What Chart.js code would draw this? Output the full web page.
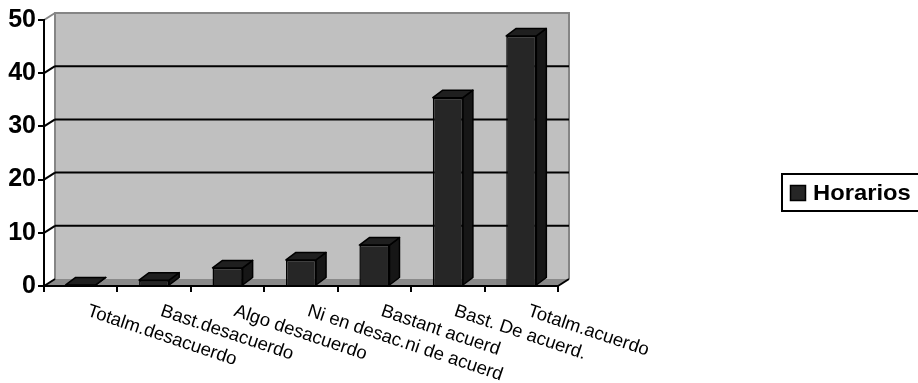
<!DOCTYPE html>
<html>
<head>
<meta charset="utf-8">
<script src="https://cdn.jsdelivr.net/npm/chart.js@4/dist/chart.umd.min.js"></script>
<style>
  html, body { margin: 0; padding: 0; background: #ffffff; }
  canvas { display: block; }
</style>
</head>
<body>
<canvas id="chart" width="918" height="383"></canvas>
<script>
// Survey answers about "Horarios" (percentage of responses)
const categories = [
  'Totalm.desacuerdo',
  'Bast.desacuerdo',
  'Algo desacuerdo',
  'Ni en desac.ni de acuerd',
  'Bastant acuerd',
  'Bast. De acuerd.',
  'Totalm.acuerdo'
];
const horarios = [0.2, 1.1, 3.4, 4.9, 7.7, 35.4, 47.0];
const yTicks = [0, 10, 20, 30, 40, 50];
const seriesName = 'Horarios';

// depth of the pseudo-3D wall and of the columns
const WALL = { dx: 11, dy: 7 };
const BAR = { dx: 10, dy: 7.5 };
const FONT = 'Liberation Sans, Arial, Helvetica, sans-serif';

const wallPlugin = {
  id: 'wall3d',
  beforeDraw(chart) {
    const { ctx, chartArea: a, scales: { y } } = chart;
    const L = a.left, R = a.right, B = a.bottom, T = a.top;
    ctx.save();
    // floor
    ctx.fillStyle = '#8a8a8a';
    ctx.beginPath();
    ctx.moveTo(L, B); ctx.lineTo(R, B);
    ctx.lineTo(R + WALL.dx, B - WALL.dy); ctx.lineTo(L + WALL.dx, B - WALL.dy);
    ctx.closePath(); ctx.fill();
    // back wall
    ctx.fillStyle = '#c0c0c0';
    ctx.fillRect(L + WALL.dx, T - WALL.dy, R - L, B - T);
    ctx.strokeStyle = '#858585';
    ctx.lineWidth = 2;
    ctx.beginPath();
    ctx.moveTo(L + WALL.dx, B - WALL.dy);
    ctx.lineTo(L + WALL.dx, T - WALL.dy);
    ctx.lineTo(R + WALL.dx, T - WALL.dy);
    ctx.lineTo(R + WALL.dx, B - WALL.dy);
    ctx.stroke();
    // gridlines on the wall and the depth strokes from the value axis
    yTicks.forEach(v => {
      const py = y.getPixelForValue(v);
      const top = v === yTicks[yTicks.length - 1];
      if (v !== 0 && !top) {
        ctx.strokeStyle = '#000';
        ctx.lineWidth = 2;
        ctx.beginPath();
        ctx.moveTo(L + WALL.dx, py - WALL.dy);
        ctx.lineTo(R + WALL.dx, py - WALL.dy);
        ctx.stroke();
      }
      ctx.strokeStyle = top ? '#858585' : '#000';
      ctx.lineWidth = 2;
      ctx.beginPath();
      ctx.moveTo(L, py);
      ctx.lineTo(L + WALL.dx, py - WALL.dy);
      ctx.stroke();
    });
    // depth stroke at the end of the category axis
    ctx.strokeStyle = '#000';
    ctx.beginPath();
    ctx.moveTo(R, B);
    ctx.lineTo(R + WALL.dx, B - WALL.dy);
    ctx.stroke();
    ctx.restore();
  },
  afterDatasetsDraw(chart) {
    const { ctx } = chart;
    const meta = chart.getDatasetMeta(0);
    ctx.save();
    ctx.lineWidth = 1.5;
    ctx.strokeStyle = '#000';
    ctx.lineJoin = 'round';
    meta.data.forEach(bar => {
      const p = bar.getProps(['x', 'y', 'base', 'width'], true);
      const l = p.x - p.width / 2, r = p.x + p.width / 2;
      // side face
      ctx.fillStyle = '#161616';
      ctx.beginPath();
      ctx.moveTo(r, p.base); ctx.lineTo(r, p.y);
      ctx.lineTo(r + BAR.dx, p.y - BAR.dy); ctx.lineTo(r + BAR.dx, p.base - BAR.dy);
      ctx.closePath(); ctx.fill(); ctx.stroke();
      // top face
      ctx.fillStyle = '#1f1f1f';
      ctx.beginPath();
      ctx.moveTo(l, p.y); ctx.lineTo(r, p.y);
      ctx.lineTo(r + BAR.dx, p.y - BAR.dy); ctx.lineTo(l + BAR.dx, p.y - BAR.dy);
      ctx.closePath(); ctx.fill(); ctx.stroke();
    });
    ctx.restore();
  },
  afterDraw(chart) {
    const { ctx, scales: { x } } = chart;
    ctx.save();
    // slanted category labels
    ctx.fillStyle = '#000';
    ctx.font = '18.5px ' + FONT;
    ctx.textAlign = 'left';
    ctx.textBaseline = 'top';
    categories.forEach((label, i) => {
      const px = x.getPixelForValue(i);
      ctx.save();
      ctx.translate(px + 10, 302);
      ctx.rotate(18.5 * Math.PI / 180);
      ctx.fillText(label, 0, 0);
      ctx.restore();
    });
    // legend
    ctx.lineWidth = 2;
    ctx.strokeStyle = '#000';
    ctx.fillStyle = '#fff';
    ctx.fillRect(782, 174, 150, 37);
    ctx.strokeRect(782, 174, 150, 37);
    ctx.fillStyle = '#262626';
    ctx.lineWidth = 1.5;
    ctx.fillRect(790.5, 185.5, 15, 15);
    ctx.strokeRect(790.5, 185.5, 15, 15);
    ctx.fillStyle = '#000';
    ctx.font = 'bold 22px ' + FONT;
    ctx.textBaseline = 'middle';
    ctx.save();
    ctx.translate(813, 193.5);
    ctx.scale(1.08, 1);
    ctx.fillText(chart.data.datasets[0].label, 0, 0);
    ctx.restore();
    ctx.restore();
  }
};

new Chart(document.getElementById('chart'), {
  type: 'bar',
  data: {
    labels: categories,
    datasets: [{
      label: seriesName,
      data: horarios,
      backgroundColor: '#262626',
      borderColor: '#000',
      borderWidth: 1.5,
      barPercentage: 0.41,
      categoryPercentage: 1
    }]
  },
  options: {
    responsive: false,
    animation: false,
    layout: { padding: { top: 20, right: 360, bottom: 0, left: 0 } },
    plugins: { legend: { display: false }, tooltip: { enabled: false } },
    scales: {
      x: {
        offset: true,
        grid: {
          display: true, drawOnChartArea: false, drawTicks: true,
          tickLength: 6, color: '#000', lineWidth: 2, offset: true
        },
        border: { display: true, color: '#000', width: 2 },
        ticks: { display: false },
        afterFit(s) { s.height = 97; }
      },
      y: {
        min: 0, max: 50,
        afterBuildTicks(s) { s.ticks = yTicks.map(v => ({ value: v })); },
        grid: {
          display: true, drawOnChartArea: false, drawTicks: true,
          tickLength: 6, color: '#000', lineWidth: 2
        },
        border: { display: true, color: '#000', width: 2 },
        ticks: {
          color: '#000', padding: 2,
          font: { family: FONT, size: 25, weight: 'bold' }
        },
        afterFit(s) { s.width = 44; }
      }
    }
  },
  plugins: [wallPlugin]
});
</script>
</body>
</html>
